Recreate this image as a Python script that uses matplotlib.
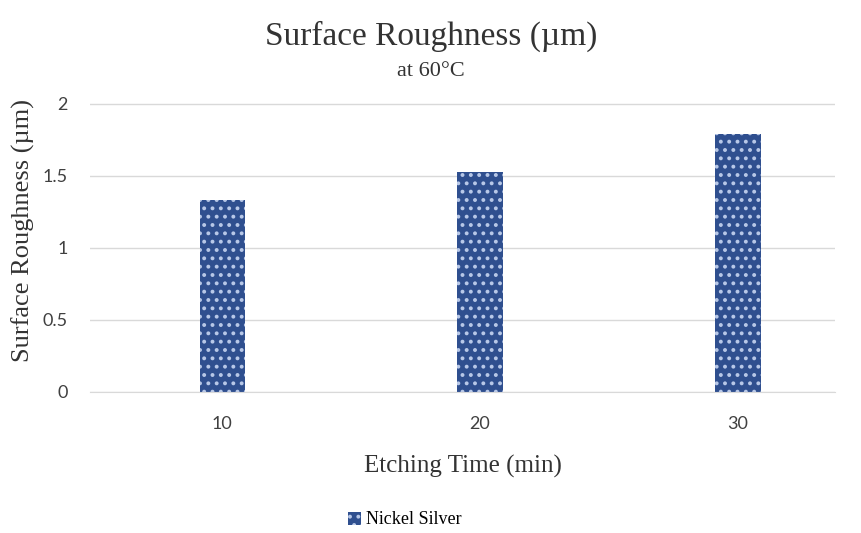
import matplotlib
matplotlib.use("Agg")
import matplotlib.pyplot as plt
import numpy as np

# data
etch_times = ["10", "20", "30"]
roughness = [1.33, 1.53, 1.79]
series_name = "Nickel Silver"
y_ticks = [0, 0.5, 1, 1.5, 2]
y_tick_labels = ["0", "0.5", "1", "1.5", "2"]

bar_color = "#2F4F8F"
serif = ["Liberation Serif", "DejaVu Serif"]
sans = ["Lato", "DejaVu Sans"]

plt.rcParams["hatch.linewidth"] = 1.6
plt.rcParams["hatch.color"] = "#B8C8E8"

fig = plt.figure(figsize=(8.62, 5.33), dpi=100)
ax = fig.add_axes([90 / 862, 1 - 392 / 533, 745 / 862, 288 / 533 * 2.5 / 2])

x = np.arange(len(etch_times))
bars = ax.bar(x, roughness, width=0.175, color=bar_color, hatch="..",
              edgecolor="#B8C8E8", linewidth=0, label=series_name, zorder=3)

ax.set_xlim(-0.512, 2.376)
ax.set_ylim(0, 2.5)
ax.set_yticks(y_ticks)
ax.set_yticklabels(y_tick_labels, family=sans, fontsize=13, color="#404040")
ax.set_xticks(x)
ax.set_xticklabels(etch_times, family=sans, fontsize=13, color="#404040")
ax.tick_params(length=0, pad=16)
ax.tick_params(axis="x", pad=17)
ax.grid(True, axis="y", color="#D9D9D9", linewidth=1, zorder=0)
for s in ["top", "right", "left"]:
    ax.spines[s].set_visible(False)
ax.spines["bottom"].set_color("#D9D9D9")
ax.spines["bottom"].set_zorder(4)

ax.set_xlabel("Etching Time (min)", family=serif, fontsize=18, color="#333333")
ax.xaxis.set_label_coords(0.5, -0.175)
ax.set_ylabel("Surface Roughness (µm)", family=serif, fontsize=19, color="#333333")
ax.yaxis.set_label_coords(-0.074, 0.45)

fig.text(0.5, 1 - 36 / 533, "Surface Roughness (µm)", ha="center", va="center",
         family=serif, fontsize=24, color="#333333")
fig.text(0.5, 1 - 71 / 533, "at 60°C", ha="center", va="center",
         family=serif, fontsize=16, color="#333333")

fig.legend(handles=[bars], loc="center", bbox_to_anchor=(405 / 862, 1 - 520 / 533),
           frameon=False, prop={"family": serif, "size": 13}, handlelength=0.7,
           handleheight=0.7, handletextpad=0.3)

fig.savefig("out.png", dpi=100)
